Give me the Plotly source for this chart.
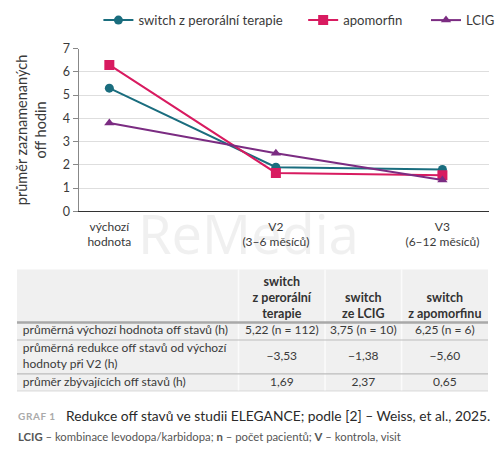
import plotly.graph_objects as go

W, H = 500, 468

# chart data
visits = ["výchozí<br>hodnota", "V2<br>(3–6 měsíců)", "V3<br>(6–12 měsíců)"]
switch_oral = [5.3, 1.9, 1.8]
apomorfin = [6.3, 1.65, 1.55]
lcig = [3.8, 2.5, 1.35]

# table data
tbl_header = ["switch<br>z perorální<br>terapie", "switch<br>ze LCIG", "switch<br>z apomorfinu"]
row_labels = [
    "průměrná výchozí hodnota off stavů (h)",
    "průměrná redukce off stavů od výchozí<br>hodnoty při V2 (h)",
    "průměr zbývajících off stavů (h)",
]
col_oral = ["5,22 (n = 112)", "−3,53", "1,69"]
col_lcig = ["3,75 (n = 10)", "−1,38", "2,37"]
col_apo = ["6,25 (n = 6)", "−5,60", "0,65"]

# table grid (pixels inside the table box)
col_edges = [0, 223, 310, 387, 474]
row_edges = [0, 55, 73, 108, 126]

FONT = "Lato"
TXT = "#3a3a3a"


def px_x(p):
    return p / W


def px_y(p):
    return 1 - p / H


fig = go.Figure()

xs = [0, 1, 2]
fig.add_trace(go.Scatter(x=xs, y=switch_oral, name="switch z perorální terapie", mode="lines+markers",
                         line=dict(color="#1a6d7e", width=2), marker=dict(symbol="circle", size=9),
                         legend="legend"))
fig.add_trace(go.Scatter(x=xs, y=apomorfin, name="apomorfin", mode="lines+markers",
                         line=dict(color="#d81b60", width=2), marker=dict(symbol="square", size=10),
                         legend="legend2"))
fig.add_trace(go.Scatter(x=xs, y=lcig, name="LCIG", mode="lines+markers",
                         line=dict(color="#7b2c82", width=2), marker=dict(symbol="triangle-up", size=9),
                         legend="legend3"))

# table, drawn on its own axes
col_mid = [(a + b) / 2 for a, b in zip(col_edges[:-1], col_edges[1:])]
row_mid = [(a + b) / 2 for a, b in zip(row_edges[1:-1], row_edges[2:])]
tkw = dict(xaxis="x2", yaxis="y2", mode="text", showlegend=False, hoverinfo="skip")

fig.add_trace(go.Scatter(x=col_mid[1:], y=[row_edges[1] - 1] * 3, text=tbl_header, textposition="top center",
                         textfont=dict(family=FONT, size=12.5, color="#333", weight="bold"), **tkw))
fig.add_trace(go.Scatter(x=[6] * 3, y=row_mid, text=row_labels, textposition="middle right",
                         textfont=dict(family=FONT, size=12, color=TXT), **tkw))
for i, col in enumerate([col_oral, col_lcig, col_apo]):
    fig.add_trace(go.Scatter(x=[col_mid[i + 1]] * 3, y=row_mid, text=col, textposition="middle center",
                             textfont=dict(family=FONT, size=12, color=TXT), **tkw))

shapes = [dict(type="rect", xref="x2", yref="y2", x0=col_edges[0], x1=col_edges[-1],
               y0=row_edges[0], y1=row_edges[-1], fillcolor="#f0f0f0", line_width=0, layer="below")]
for xe in col_edges[1:-1]:
    shapes.append(dict(type="line", xref="x2", yref="y2", x0=xe, x1=xe, y0=row_edges[0], y1=row_edges[-1],
                       line=dict(color="#fbfbfb", width=1.5), layer="below"))
for j, ye in enumerate(row_edges[1:]):
    shapes.append(dict(type="line", xref="x2", yref="y2", x0=col_edges[0], x1=col_edges[-1], y0=ye, y1=ye,
                       line=dict(color="#a9a9a9" if j == 0 else "#bcbcbc", width=2.5 if j == 0 else 1.2),
                       layer="below"))

leg = dict(orientation="h", y=px_y(13), yanchor="middle", xanchor="left",
           font=dict(size=13.1, color=TXT), itemwidth=30, bgcolor="rgba(0,0,0,0)")

fig.update_layout(
    width=W, height=H,
    margin=dict(l=0, r=0, t=0, b=0),
    paper_bgcolor="white", plot_bgcolor="white",
    font=dict(family=FONT, size=11, color=TXT),
    showlegend=True,
    legend=dict(leg, x=px_x(99)),
    legend2=dict(leg, x=px_x(305)),
    legend3=dict(leg, x=px_x(429)),
    xaxis=dict(domain=[px_x(79), px_x(492)], range=[-0.185, 2.28], tickvals=xs, ticktext=visits,
               showgrid=False, zeroline=False, showline=True, linecolor="#333", linewidth=1.2,
               ticks="", ticklabelstandoff=4, tickfont=dict(size=12, color=TXT)),
    yaxis=dict(domain=[px_y(210), px_y(42)], range=[0, 7], dtick=1, showgrid=True, gridcolor="#dedede",
               zeroline=False, showline=True, linecolor="#888", ticks="outside", ticklen=5, tickcolor="#888",
               tickfont=dict(size=12.5, color=TXT),
               title=dict(text="průměr zaznamenaných<br>off hodin", font=dict(size=14.5, color=TXT), standoff=12)),
    xaxis2=dict(domain=[px_x(17), px_x(491)], range=[col_edges[0], col_edges[-1]], visible=False),
    yaxis2=dict(domain=[px_y(396), px_y(270)], range=[row_edges[-1], row_edges[0]], visible=False),
    shapes=shapes,
    annotations=[
        dict(text="ReMedia", x=px_x(250), y=px_y(232), xref="paper", yref="paper", showarrow=False,
             yanchor="middle", font=dict(family="Noto Sans", size=54, color="rgba(0,0,0,0.06)")),
        dict(text="G\u200aR\u200aA\u200aF\u200a 1", x=px_x(16), y=px_y(422), xref="paper", yref="paper",
             xanchor="left", yanchor="middle", showarrow=False,
             font=dict(size=10, color="#aaaaaa", weight="bold")),
        dict(text="Redukce off stavů ve studii ELEGANCE; podle [2] – Weiss, et al., 2025.",
             x=px_x(64), y=px_y(421), xref="paper", yref="paper", xanchor="left", yanchor="middle",
             showarrow=False, font=dict(size=13.8, color="#2a2a2a")),
        dict(text="<b>LCIG</b> – kombinace levodopa/karbidopa; <b>n</b> – počet pacientů; <b>V</b> – kontrola, visit",
             x=px_x(16), y=px_y(443), xref="paper", yref="paper", xanchor="left", yanchor="middle",
             showarrow=False, font=dict(size=11.3, color="#555")),
    ],
)

fig.write_html("out.html", config={"displayModeBar": False},
               post_script="document.body.style.margin='0';")
